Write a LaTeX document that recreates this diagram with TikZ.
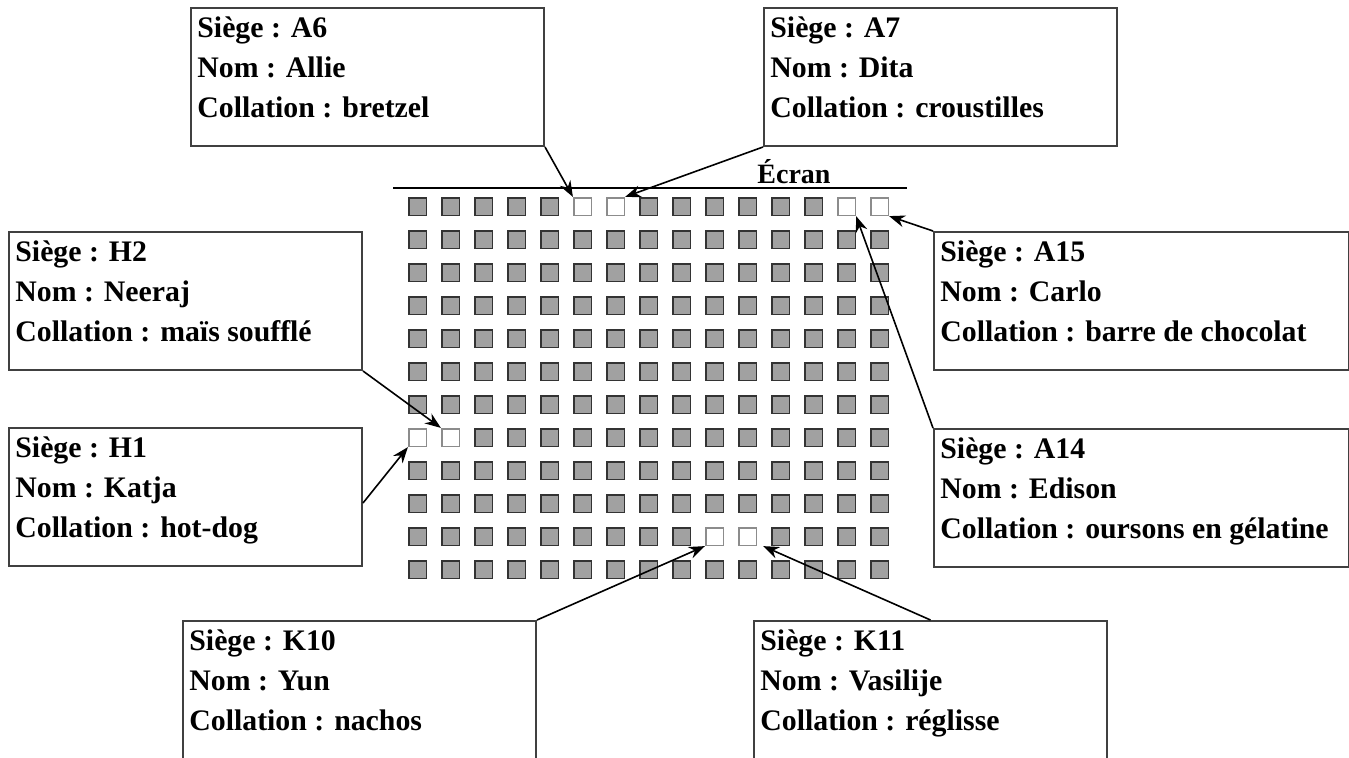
\documentclass[tikz,border=0pt]{standalone}
\usepackage{fontspec}
\setmainfont{Liberation Serif}
\usetikzlibrary{arrows.meta,calc}
\begin{document}
\begin{tikzpicture}[x=0.5pt,y=-0.5pt,
  seat/.style={rectangle,draw=black!80,fill=black!37,line width=0.8pt,minimum size=8.8pt,inner sep=0pt},
  freeseat/.style={seat,draw=black!45,fill=white},
  infobox/.style={rectangle,draw=black!75,line width=1pt,anchor=north west,minimum width=176.5pt,minimum height=69pt,inner sep=0pt},
  widebox/.style={infobox,minimum width=207.5pt},
  infotext/.style={anchor=base west,align=left,font=\bfseries\fontsize{14.9}{20}\selectfont,inner sep=0pt},
  pointer/.style={line width=0.8pt,-{Stealth[length=8pt,width=6pt]}}]
\useasboundingbox (0,0) rectangle (1349,757);
% free seats
\foreach \s in {A6,A7,A14,A15,H1,H2,K10,K11}{\expandafter\gdef\csname free\s\endcsname{}}
% seat grid
\foreach \r [count=\ri from 0] in {A,B,C,D,E,F,G,H,I,J,K,L}{
  \foreach \c in {1,...,15}{
    \ifcsname free\r\c\endcsname\def\st{freeseat}\else\def\st{seat}\fi
    \node[\st] (s\r\c) at ({417.5+33*(\c-1)},{206.5+33*\ri}) {};
  }
}
% screen
\coordinate (scrL) at (393,188);
\coordinate (scrR) at (907,188);
\draw[line width=0.6pt] (scrL) -- (scrR);
\node[anchor=base,inner sep=0pt,font=\bfseries\fontsize{14}{16}\selectfont] (ecran) at (794,183) {Écran};
% boxes
\node[infobox] (bA6) at (190,7) {};
\node[infobox] (bA7) at (763,7) {};
\node[infobox] (bH2) at (8,231) {};
\node[infobox] (bH1) at (8,427) {};
\node[widebox] (bA15) at (933,231) {};
\node[widebox] (bA14) at (933,428) {};
\node[infobox] (bK10) at (182,620) {};
\node[infobox] (bK11) at (753,620) {};
% texts (base anchor = baseline of the last line)
\node[infotext] (tA6) at ($(bA6.north west)+(7,110)$) {Siège : A6\\Nom : Allie\\Collation : bretzel};
\node[infotext] (tA7) at ($(bA7.north west)+(7,110)$) {Siège : A7\\Nom : Dita\\Collation : croustilles};
\node[infotext] (tH2) at ($(bH2.north west)+(7,110)$) {Siège : H2\\Nom : Neeraj\\Collation : maïs soufflé};
\node[infotext] (tH1) at ($(bH1.north west)+(7,110)$) {Siège : H1\\Nom : Katja\\Collation : hot-dog};
\node[infotext] (tA15) at ($(bA15.north west)+(7,110)$) {Siège : A15\\Nom : Carlo\\Collation : barre de chocolat};
\node[infotext] (tA14) at ($(bA14.north west)+(7,110)$) {Siège : A14\\Nom : Edison\\Collation : oursons en gélatine};
\node[infotext] (tK10) at ($(bK10.north west)+(7,110)$) {Siège : K10\\Nom : Yun\\Collation : nachos};
\node[infotext] (tK11) at ($(bK11.north west)+(7,110)$) {Siège : K11\\Nom : Vasilije\\Collation : réglisse};
% pointers
\draw[pointer] (bA6.south east) -- (sA6.north west);
\draw[pointer] (bA7.south west) -- (sA7.north east);
\draw[pointer] (bA15.north west) -- (sA15.south east);
\draw[pointer] (bA14.north west) -- (sA14.south east);
\draw[pointer] (bH2.south east) -- (sH2.north west);
\draw[pointer] ([yshift=-3pt]bH1.east) -- (sH1.south west);
\draw[pointer] (bK10.north east) -- (sK10.south west);
\draw[pointer] (bK11.north) -- ([xshift=3pt]sK11.south east);
\end{tikzpicture}
\end{document}
